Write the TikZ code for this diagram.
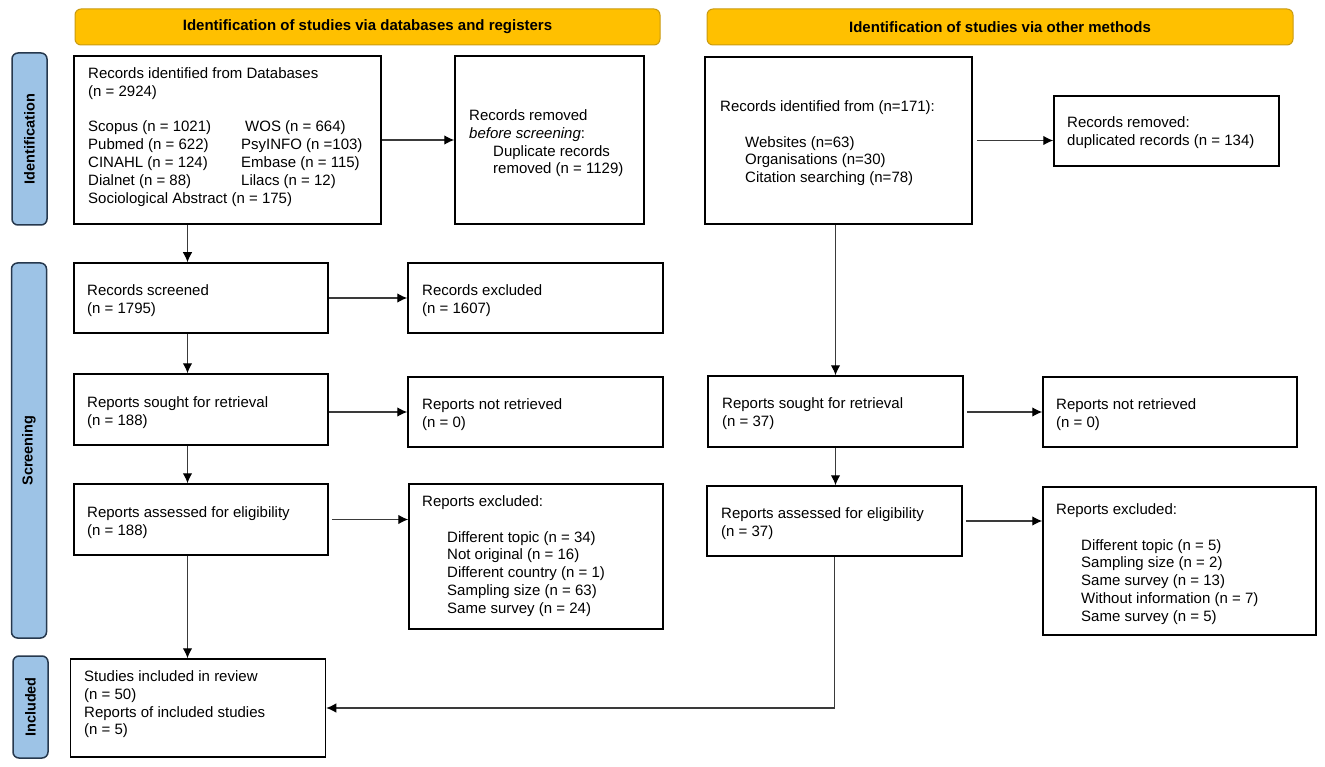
\documentclass[tikz,border=0pt]{standalone}
\usepackage{fontspec}
\setmainfont{Liberation Sans}
\usetikzlibrary{arrows.meta,calc}
\definecolor{gold}{HTML}{FFC000}
\definecolor{goldline}{HTML}{C99A10}
\definecolor{lblue}{HTML}{9DC3E6}
\definecolor{dblue}{HTML}{26384D}
\definecolor{arrline}{HTML}{3A3A3A}
\begin{document}
\begin{tikzpicture}[x=1pt,y=-1pt,
  bx/.style={draw=black,line width=1.5pt,inner sep=0pt,fill=white},
  txt/.style={anchor=north west,inner sep=0pt,align=left,font=\fontsize{15}{17.8}\selectfont},
  ban/.style={draw=goldline,fill=gold,line width=1pt,rounded corners=6pt,inner sep=0pt,
    font=\fontsize{15}{18}\selectfont\bfseries},
  lab/.style={draw=dblue,fill=lblue,line width=1.5pt,rounded corners=6pt,inner sep=0pt,
    rotate=90,font=\fontsize{14.5}{17}\selectfont\bfseries},
  arr/.style={draw=arrline,line width=1.2pt,-{Latex[length=10pt,width=9.5pt,color=black]}}]
\useasboundingbox (0,0) rectangle (1325,767);

% banners
\node[ban,minimum width=585,minimum height=36] (HL) at (367.5,27) {Identification of studies via databases and registers};
\node[ban,minimum width=586,minimum height=36] (HR) at (1000,27) {Identification of studies via other methods};

% side labels
\node[lab,minimum width=172,minimum height=35] (LI) at (29.5,139) {Identification};
\node[lab,minimum width=375,minimum height=35] (LS) at (29,450.5) {Screening};
\node[lab,minimum width=102,minimum height=35] (LN) at (30.5,707) {Included};

% left column boxes
\node[bx,minimum width=307,minimum height=168] (A) at (227.5,140) {};
\node[bx,minimum width=189,minimum height=168] (B) at (549.5,140) {};
\node[bx,minimum width=254,minimum height=70] (scr) at (201,298) {};
\node[bx,minimum width=255,minimum height=70] (exc) at (535.5,298) {};
\node[bx,minimum width=254,minimum height=71] (sgt) at (201,409.5) {};
\node[bx,minimum width=255,minimum height=70] (nr) at (535.5,412) {};
\node[bx,minimum width=254,minimum height=71] (ass) at (201,519.5) {};
\node[bx,minimum width=254,minimum height=145] (exl) at (536,556.5) {};
\node[bx,minimum width=255,minimum height=98] (stu) at (198,708) {};

% right column boxes
\node[bx,minimum width=267,minimum height=167] (C) at (838.5,140.5) {};
\node[bx,minimum width=225,minimum height=70] (D) at (1166.5,131) {};
\node[bx,minimum width=255,minimum height=71] (sgtR) at (835.5,411.5) {};
\node[bx,minimum width=254,minimum height=70] (nrR) at (1170,412) {};
\node[bx,minimum width=255,minimum height=70] (assR) at (834.5,521) {};
\node[bx,minimum width=273,minimum height=148] (exlR) at (1179.5,561) {};

% texts
\node[txt] (tA) at (88,67.5) {Records identified from Databases\\(n = 2924)\\[17.8pt]
\makebox[153pt][l]{Scopus (n = 1021)}\hspace*{4pt}WOS (n = 664)\\
\makebox[153pt][l]{Pubmed (n = 622)}PsyINFO (n =103)\\
\makebox[153pt][l]{CINAHL (n = 124)}Embase (n = 115)\\
\makebox[153pt][l]{Dialnet (n = 88)}Lilacs (n = 12)\\
Sociological Abstract (n = 175)};
\node[txt] (tB) at (469,109.5) {Records removed\\\textit{before screening}:\\\hspace*{24pt}Duplicate records\\\hspace*{24pt}removed (n = 1129)};
\node[txt] (tscr) at (87,284.5) {Records screened\\(n = 1795)};
\node[txt] (texc) at (422,284.5) {Records excluded\\(n = 1607)};
\node[txt] (tsgt) at (87,396.5) {Reports sought for retrieval\\(n = 188)};
\node[txt] (tnr) at (422,398.5) {Reports not retrieved\\(n = 0)};
\node[txt] (tass) at (87,506.5) {Reports assessed for eligibility\\(n = 188)};
\node[txt] (texl) at (422,495.5) {Reports excluded:\\[17.8pt]
\hspace*{25pt}Different topic (n = 34)\\
\hspace*{25pt}Not original (n = 16)\\
\hspace*{25pt}Different country (n = 1)\\
\hspace*{25pt}Sampling size (n = 63)\\
\hspace*{25pt}Same survey (n = 24)};
\node[txt] (tstu) at (84,670.5) {Studies included in review\\(n = 50)\\Reports of included studies\\(n = 5)};

\node[txt] (tC) at (720,100.5) {Records identified from (n=171):\\[17.8pt]
\hspace*{25pt}Websites (n=63)\\
\hspace*{25pt}Organisations (n=30)\\
\hspace*{25pt}Citation searching (n=78)};
\node[txt] (tD) at (1067,116.5) {Records removed:\\duplicated records (n = 134)};
\node[txt] (tsgtR) at (722,397.5) {Reports sought for retrieval\\(n = 37)};
\node[txt] (tnrR) at (1056,398.5) {Reports not retrieved\\(n = 0)};
\node[txt] (tassR) at (721,507.5) {Reports assessed for eligibility\\(n = 37)};
\node[txt] (texlR) at (1056,503.5) {Reports excluded:\\[17.8pt]
\hspace*{25pt}Different topic (n = 5)\\
\hspace*{25pt}Sampling size (n = 2)\\
\hspace*{25pt}Same survey (n = 13)\\
\hspace*{25pt}Without information (n = 7)\\
\hspace*{25pt}Same survey (n = 5)};

% connectors
\coordinate (cL) at (187.5,0);
\draw[arr] (A) -- (B);
\draw[arr] (A.south -| cL) -- (scr.north -| cL);
\draw[arr] (scr) -- (exc);
\draw[arr] (scr.south -| cL) -- (sgt.north -| cL);
\draw[arr] (sgt.east |- nr.west) -- (nr.west);
\draw[arr] (sgt.south -| cL) -- (ass.north -| cL);
\draw[arr,shorten <=3pt] (ass.east) -- (ass.east -| exl.west);
\draw[arr] (ass.south -| cL) -- (stu.north -| cL);

\draw[arr,shorten <=4pt] (C.east) -- (C.east -| D.west);
\draw[arr] (C.south -| sgtR.north) -- (sgtR.north);
\draw[arr,shorten <=3pt] (sgtR.east |- nrR.west) -- (nrR.west);
\draw[arr] (sgtR.south) -- (sgtR.south |- assR.north);
\draw[arr,shorten <=3pt] (assR.east) -- (assR.east -| exlR.west);
\draw[arr] (assR.south) |- (stu.east);
\end{tikzpicture}
\end{document}
